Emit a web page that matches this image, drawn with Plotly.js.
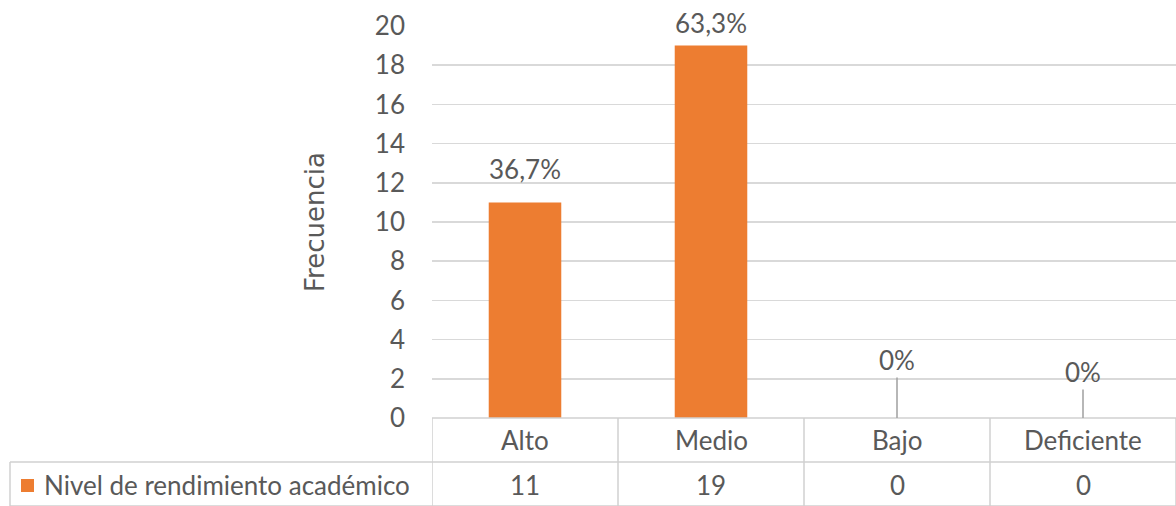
<!DOCTYPE html>
<html>
<head>
<meta charset="utf-8">
<script src="https://cdn.plot.ly/plotly-3.0.1.min.js"></script>
<style>html,body{margin:0;padding:0;background:#fff;}#chart{width:1176px;height:506px;}</style>
</head>
<body>
<div id="chart"></div>
<script>
const categories = ["Alto", "Medio", "Bajo", "Deficiente"];
const values = [11, 19, 0, 0];
const seriesName = "Nivel de rendimiento académico";
const yTicks = [0, 2, 4, 6, 8, 10, 12, 14, 16, 18, 20];

const total = values.reduce((a, b) => a + b, 0);
const pctLabels = values.map(v => v === 0 ? "0%" : (v / total * 100).toFixed(1).replace(".", ",") + "%");

const FONT = "Lato, 'Liberation Sans', sans-serif";
const FS = 26;
const TXT = "#595959";
const GRID = "#D9D9D9";
const TBL = "#D0D0D0";
const ORANGE = "#ED7D31";

// layout geometry (pixels)
const W = 1176, H = 506, L = 432, T = 26, B = 88;
const plotH = H - T - B, plotW = W - L;
const py = px => (H - B - px) / plotH;       // pixel y -> paper y
const pxX = px => (px - L) / plotW;          // pixel x -> paper x

const annotations = [];
// data labels
const labelShift = [33, 23, 58, 46];
values.forEach((v, i) => {
  if (v === 0) {
    annotations.push({x: categories[i], y: v, xref: "x", yref: "y", text: pctLabels[i],
      showarrow: true, arrowhead: 0, arrowwidth: 1.6, arrowcolor: "#A6A6A6", ax: 0, ay: -labelShift[i],
      font: {family: FONT, size: FS, color: TXT}});
  } else {
    annotations.push({x: categories[i], y: v, xref: "x", yref: "y", text: pctLabels[i],
      showarrow: false, yshift: labelShift[i], font: {family: FONT, size: FS, color: TXT}});
  }
});
// table category row and values row
categories.forEach((c, i) => {
  annotations.push({x: c, y: py(440), xref: "x", yref: "paper", xanchor: "center", yanchor: "middle",
    text: c, showarrow: false, font: {family: FONT, size: FS, color: TXT}});
  annotations.push({x: c, y: py(485), xref: "x", yref: "paper", xanchor: "center", yanchor: "middle",
    text: String(values[i]), showarrow: false, font: {family: FONT, size: FS, color: TXT}});
});
// legend key text
annotations.push({x: pxX(42), y: py(485), xref: "paper", yref: "paper", xanchor: "left", yanchor: "middle",
  text: seriesName, showarrow: false, font: {family: FONT, size: FS, color: TXT}});
// y axis title
annotations.push({x: pxX(315), y: py(222), xref: "paper", yref: "paper", xanchor: "center", yanchor: "middle",
  text: "Frecuencia", textangle: -90, showarrow: false,
  font: {family: "'DejaVu Sans', sans-serif", size: 26, color: TXT}});

const shapes = [];
// vertical table lines at category boundaries
for (let k = 0; k <= categories.length; k++) {
  shapes.push({type: "line", xref: "x", yref: "paper", x0: k - 0.5, x1: k - 0.5, y0: 0, y1: py(506),
    line: {color: TBL, width: 1.5}});
}
// table top line
shapes.push({type: "line", xref: "paper", yref: "paper", x0: 0, x1: 1, y0: 0, y1: 0, line: {color: TBL, width: 1.5}});
// row separator spanning legend cell
shapes.push({type: "line", xref: "paper", yref: "paper", x0: pxX(10), x1: 1, y0: py(462), y1: py(462), line: {color: TBL, width: 1.5}});
shapes.push({type: "line", xref: "paper", yref: "paper", x0: pxX(10), x1: 1, y0: py(506), y1: py(506), line: {color: TBL, width: 1.5}});
// legend cell left border
shapes.push({type: "line", xref: "paper", yref: "paper", x0: pxX(10), x1: pxX(10), y0: py(462), y1: py(506), line: {color: TBL, width: 1.5}});
// legend key square
shapes.push({type: "rect", xref: "paper", yref: "paper", x0: pxX(21), x1: pxX(34), y0: py(492), y1: py(479),
  fillcolor: ORANGE, line: {width: 0}});

const data = [{
  type: "bar", x: categories, y: values, name: seriesName,
  marker: {color: ORANGE}, hoverinfo: "none"
}];

const layout = {
  width: W, height: H,
  margin: {l: L, r: 0, t: T, b: B, pad: 0},
  paper_bgcolor: "#fff", plot_bgcolor: "#fff",
  showlegend: false, bargap: 0.61,
  font: {family: FONT, color: TXT},
  xaxis: {type: "category", range: [-0.5, 3.5], showticklabels: false, showgrid: false, zeroline: false, showline: false, ticks: ""},
  yaxis: {range: [0, 20], tickvals: yTicks, ticktext: yTicks.map(String), showgrid: true, gridcolor: GRID, gridwidth: 1.6,
    zeroline: false, showline: false, ticks: "", ticklabelstandoff: 26,
    tickfont: {family: FONT, size: FS, color: TXT}},
  annotations: annotations, shapes: shapes
};

Plotly.newPlot("chart", data, layout, {displayModeBar: false, staticPlot: true});
</script>
</body>
</html>
